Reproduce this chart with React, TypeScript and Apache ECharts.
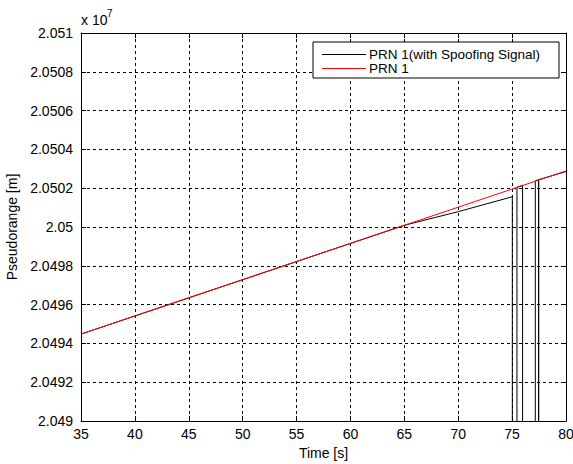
import React, { useEffect, useRef } from "react";
import * as echarts from "echarts";

// Time [s] and pseudorange [m]
const redTime = [35, 80];
const redRange = [20494480, 20502890];

const blackTime = [35, 65, 70, 75.02, 75.02, 75.45, 75.45, 75.97, 75.97, 77.15, 77.15, 77.45, 77.45, 77.47, 80];
const blackRange = [20494480, 20500090, 20500790, 20501560, 0, 0, 20502050, 20502150, 0, 0, 20502380, 20502440, 0, 20502440, 20502860];

const seriesNames = ["PRN 1(with Spoofing Signal)", "PRN 1"];
const seriesColors = ["#000000", "#ff0000"];

const xMin = 35, xMax = 80, xStep = 5;
const yMin = 20490000, yMax = 20510000, yStep = 2000;

const FONT = "Liberation Sans, Arial, sans-serif";
const FS = 14;

export default function App() {
  const ref = useRef<HTMLDivElement>(null);
  useEffect(() => {
    document.body.style.margin = "0";
    const chart = echarts.init(ref.current!, null, { renderer: "svg" });
    const gridLine = { show: true, lineStyle: { color: "#000", type: [3, 3], width: 1 } };
    const axisLine = { show: true, lineStyle: { color: "#000", width: 1 } };
    const tick = { show: true, inside: true, length: 5, lineStyle: { color: "#000" } };
    const legendItems: any[] = [];
    seriesNames.forEach((n, i) => {
      const y = 54 + i * 14;
      legendItems.push({ type: "text", z: 100, x: 369, y: y + 0.5, style: { text: n, fontSize: FS - 0.5, lineHeight: 12, fontFamily: FONT, fill: "#000", verticalAlign: "middle" } });
      legendItems.push({ type: "rect", z: 101, shape: { x: 322, y, width: 44, height: 1 }, style: { fill: seriesColors[i] } });
    });
    chart.setOption({
      animation: false,
      backgroundColor: "#fff",
      grid: { left: 81, right: 7, top: 33, bottom: 43, containLabel: false, outerBoundsMode: "none" },
      xAxis: [
        {
          type: "value", min: xMin, max: xMax, interval: xStep,
          axisLine, axisTick: tick, splitLine: gridLine,
          axisLabel: { color: "#000", fontSize: FS, fontFamily: FONT, margin: 6 },
          name: "Time [s]", nameLocation: "middle", nameGap: 25,
          nameTextStyle: { color: "#000", fontSize: FS, fontFamily: FONT },
        },
        {
          type: "value", position: "top", min: xMin, max: xMax, interval: xStep,
          axisLine, axisTick: tick, splitLine: { show: false }, axisLabel: { show: false },
        },
      ],
      yAxis: [
        {
          type: "value", min: yMin, max: yMax, interval: yStep,
          axisLine, axisTick: tick, splitLine: gridLine,
          axisLabel: {
            color: "#000", fontSize: FS, fontFamily: FONT, margin: 8,
            formatter: (v: number) => String(parseFloat((v / 1e7).toFixed(4))),
          },
          name: "Pseudorange [m]", nameLocation: "middle", nameGap: 60, nameRotate: 90,
          nameTextStyle: { color: "#000", fontSize: FS, fontFamily: FONT },
        },
        {
          type: "value", position: "right", min: yMin, max: yMax, interval: yStep,
          axisLine, axisTick: tick, splitLine: { show: false }, axisLabel: { show: false },
        },
      ],
      graphic: [
        { type: "text", x: 81, y: 13, style: { text: "x 10", fontSize: FS, fontFamily: FONT, fill: "#000" } },
        { type: "text", x: 107, y: 8, style: { text: "7", fontSize: 10, fontFamily: FONT, fill: "#000" } },
        { type: "rect", z: 99, shape: { x: 313, y: 42, width: 246, height: 36 }, style: { fill: "#fff", stroke: "#000", lineWidth: 1 } },
        ...legendItems,
      ],
      series: [
        {
          name: seriesNames[0],
          type: "line",
          data: blackTime.map((t, i) => [t, blackRange[i]]),
          symbol: "none",
          clip: true,
          lineStyle: { color: seriesColors[0], width: 1 },
        },
        {
          name: seriesNames[1],
          type: "line",
          data: redTime.map((t, i) => [t, redRange[i]]),
          symbol: "none",
          clip: true,
          lineStyle: { color: seriesColors[1], width: 1 },
        },
      ],
    });
    return () => chart.dispose();
  }, []);
  return <div ref={ref} style={{ width: 573, height: 464 }} />;
}
